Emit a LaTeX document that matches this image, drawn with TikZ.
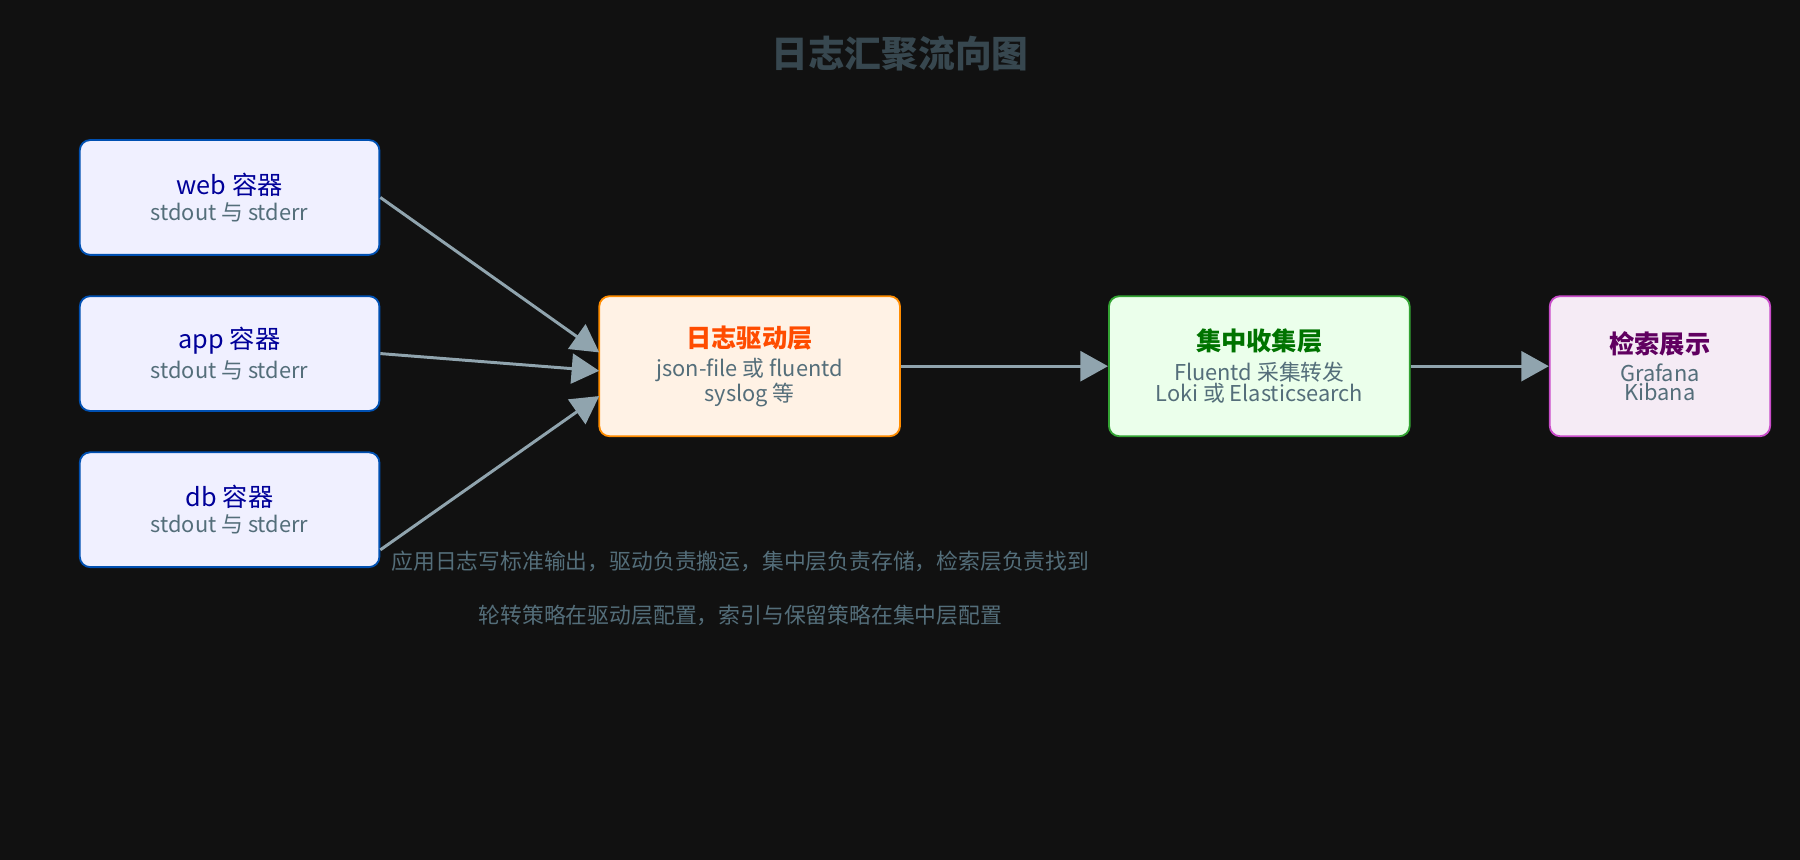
\documentclass[tikz,border=0pt]{standalone}
\usepackage{fontspec}
\setmainfont{Noto Sans CJK SC}
\usetikzlibrary{positioning}
\usetikzlibrary{arrows.meta}
\definecolor{bg}{HTML}{111111}
\definecolor{arrowgray}{HTML}{90A4AE}
\definecolor{subgray}{HTML}{546E7A}
\definecolor{titlegray}{HTML}{37474F}
\tikzset{
  box/.style={draw, line width=1.6pt, rounded corners=9pt, minimum height=#1, align=center, inner sep=0pt},
  srcbox/.style={box=100pt, minimum width=261pt, fill=blue!6, draw=blue!55!cyan!70!black, text=blue!60!black},
  sub/.style={text=subgray, font=\fontsize{19}{24}\selectfont},
  flow/.style={draw=arrowgray, line width=2.6pt, -{Triangle[length=24pt,width=26pt]}}
}
\begin{document}
\begin{tikzpicture}[x=1pt,y=-1pt]
  \fill[bg] (0,0) rectangle (1568,749);
  \useasboundingbox (0,0) rectangle (1568,749);
  % title
  \node[text=titlegray, font=\fontsize{32}{36}\selectfont\bfseries] (title) at (784,47) {日志汇聚流向图};
  % sources
  \node[srcbox] (web) at (200,172) {\fontsize{22}{26}\selectfont web 容器\\[4pt]\textcolor{subgray}{\fontsize{19}{24}\selectfont stdout 与 stderr}};
  \node[srcbox] (app) at (200,308) {\fontsize{22}{26}\selectfont app 容器\\[4pt]\textcolor{subgray}{\fontsize{19}{24}\selectfont stdout 与 stderr}};
  \node[srcbox] (db) at (200,444) {\fontsize{22}{26}\selectfont db 容器\\[4pt]\textcolor{subgray}{\fontsize{19}{24}\selectfont stdout 与 stderr}};
  % stages
  \node[box=122pt, minimum width=262pt, fill=orange!10, draw=orange!90!yellow] (driver) at (653,319)
    {\textcolor{orange!60!red}{\fontsize{22}{26}\selectfont\bfseries 日志驱动层}\\[6pt]\textcolor{subgray}{\fontsize{19}{24}\selectfont json-file 或 fluentd}\\\textcolor{subgray}{\fontsize{19}{24}\selectfont syslog 等}};
  \node[box=122pt, minimum width=262pt, fill=green!8, draw=green!55!black!80] (collect) at (1097,319)
    {\textcolor{green!45!black}{\fontsize{22}{26}\selectfont\bfseries 集中收集层}\\[6pt]\textcolor{subgray}{\fontsize{19}{24}\selectfont Fluentd 采集转发}\\\textcolor{subgray}{\fontsize{19}{24}\selectfont Loki 或 Elasticsearch}};
  \node[box=122pt, minimum width=192pt, fill=violet!8, draw=violet!60!magenta!70] (search) at (1446,319)
    {\textcolor{violet!75!black}{\fontsize{22}{26}\selectfont\bfseries 检索展示}\\[6pt]\textcolor{subgray}{\fontsize{19}{24}\selectfont Grafana}\\\textcolor{subgray}{\fontsize{19}{24}\selectfont Kibana}};
  % connectors
  \coordinate (in1) at (522,307);
  \coordinate (in2) at (522,323);
  \coordinate (in3) at (522,345);
  \draw[flow] (web.east) -- (in1);
  \draw[flow] (app.east) -- (in2);
  \draw[flow] ([yshift=-35pt]db.east) -- (in3);
  \draw[flow] (driver) -- (collect);
  \draw[flow] (collect) -- (search);
  % notes
  \node[sub] (note1) at (645,489) {应用日志写标准输出，驱动负责搬运，集中层负责存储，检索层负责找到};
  \node[sub] (note2) at (645,536) {轮转策略在驱动层配置，索引与保留策略在集中层配置};
\end{tikzpicture}
\end{document}
